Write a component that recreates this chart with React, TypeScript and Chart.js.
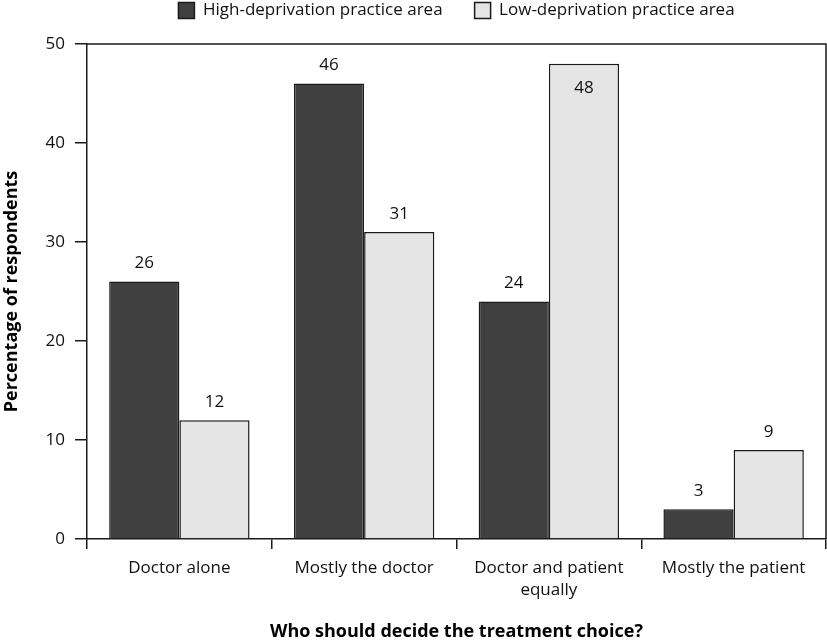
import React, { useEffect, useRef } from "react";
import { Chart, registerables } from "chart.js";

Chart.register(...registerables);

const categories: (string | string[])[] = [
  "Doctor alone",
  "Mostly the doctor",
  ["Doctor and patient", "equally"],
  "Mostly the patient",
];
const highDeprivation = [26, 46, 24, 3];
const lowDeprivation = [12, 31, 48, 9];
const yTicks = [0, 10, 20, 30, 40, 50];

const FONT = "'Open Sans', 'Noto Sans', sans-serif";
const LINE = "#1a1a1a";

const frameAndLabels = {
  id: "frameAndLabels",
  beforeInit(chart: any) {
    const legend = chart.legend;
    if (legend) {
      const orig = legend.fit.bind(legend);
      legend.fit = function () {
        orig();
        this.height = 74;
      };
    }
  },
  afterDatasetsDraw(chart: any) {
    const { ctx, chartArea } = chart;
    ctx.save();
    ctx.strokeStyle = LINE;
    ctx.lineWidth = 1.5;
    ctx.beginPath();
    ctx.moveTo(chartArea.left, chartArea.top);
    ctx.lineTo(chartArea.right, chartArea.top);
    ctx.lineTo(chartArea.right, chartArea.bottom);
    ctx.stroke();
    ctx.font = `17px ${FONT}`;
    ctx.fillStyle = "#111";
    ctx.textAlign = "center";
    ctx.textBaseline = "middle";
    chart.data.datasets.forEach((ds: any, i: number) => {
      const meta = chart.getDatasetMeta(i);
      meta.data.forEach((bar: any, j: number) => {
        const v = ds.data[j];
        let y = bar.y - 18;
        if (y - 10 < chartArea.top) y = bar.y + 24;
        ctx.fillText(String(v), bar.x, y);
      });
    });
    ctx.restore();
  },
};

export default function App() {
  const ref = useRef<HTMLCanvasElement>(null);
  useEffect(() => {
    document.body.style.margin = "0";
    const chart = new Chart(ref.current!, {
      type: "bar",
      data: {
        labels: categories,
        datasets: [
          {
            label: "High-deprivation practice area",
            data: highDeprivation,
            backgroundColor: "#404040",
            borderColor: LINE,
            borderWidth: 1.5,
            categoryPercentage: 0.76,
            barPercentage: 1.0,
          },
          {
            label: "Low-deprivation practice area",
            data: lowDeprivation,
            backgroundColor: "#e5e5e5",
            borderColor: LINE,
            borderWidth: 1.5,
            categoryPercentage: 0.76,
            barPercentage: 1.0,
          },
        ],
      },
      options: {
        animation: false,
        responsive: false,
        maintainAspectRatio: false,
        layout: { padding: { top: -30, right: 1, bottom: 0, left: 0 } },
        plugins: {
          legend: {
            position: "top",
            fullSize: false,
            labels: {
              font: { family: FONT, size: 17 },
              color: "#111",
              boxWidth: 16,
              boxHeight: 16,
              padding: 32,
            },
          },
          tooltip: { enabled: false },
        },
        scales: {
          x: {
            afterFit: (s: any) => {
              s.height = 104;
            },
            grid: {
              offset: true,
              drawOnChartArea: false,
              tickLength: 10,
              color: LINE,
              lineWidth: 1.5,
            },
            border: { color: LINE, width: 1.5 },
            ticks: {
              font: { family: FONT, size: 17, lineHeight: 1.3 },
              color: "#111",
              padding: 8,
              maxRotation: 0,
            },
            title: {
              display: true,
              text: "Who should decide the treatment choice?",
              font: { family: FONT, size: 18, weight: "bold" },
              color: "#000",
              padding: { top: 0, bottom: 0 },
            },
          },
          y: {
            min: 0,
            max: 50,
            afterFit: (s: any) => {
              s.width = 87;
            },
            afterBuildTicks: (s: any) => {
              s.ticks = yTicks.map((v) => ({ value: v }));
            },
            grid: {
              drawOnChartArea: false,
              tickLength: 12,
              color: LINE,
              lineWidth: 1.5,
            },
            border: { color: LINE, width: 1.5 },
            ticks: {
              font: { family: FONT, size: 17 },
              color: "#111",
              padding: 10,
            },
            title: {
              display: true,
              text: "Percentage of respondents",
              font: { family: FONT, size: 18, weight: "bold" },
              color: "#000",
              padding: { top: 1, bottom: 0 },
            },
          },
        },
      },
      plugins: [frameAndLabels],
    });
    return () => chart.destroy();
  }, []);
  return (
    <div style={{ width: 827, height: 643 }}>
      <canvas ref={ref} width={827} height={643} style={{ display: "block" }} />
    </div>
  );
}
